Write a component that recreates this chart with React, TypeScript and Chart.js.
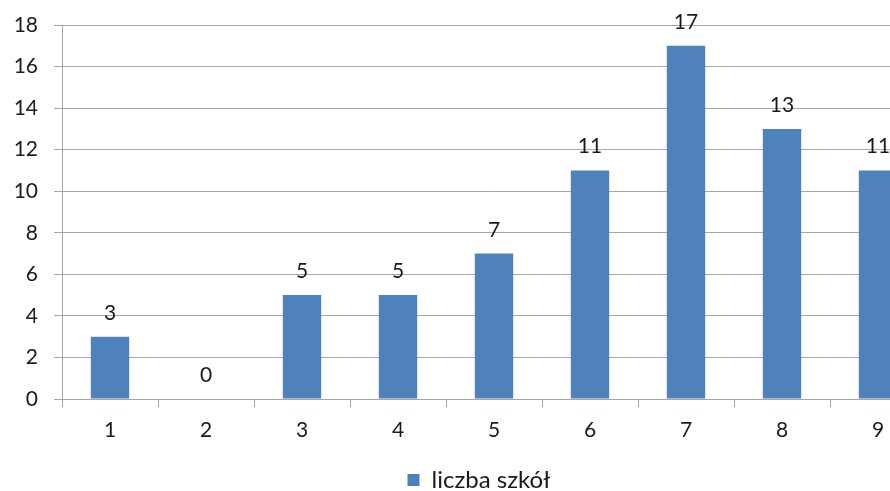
import React, { useEffect, useRef } from "react";
import { Chart, registerables } from "chart.js";

Chart.register(...registerables);

const categories = ["1", "2", "3", "4", "5", "6", "7", "8", "9"];
const values = [3, 0, 5, 5, 7, 11, 17, 13, 11];
const seriesName = "liczba szkół";
const yTicks = [0, 2, 4, 6, 8, 10, 12, 14, 16, 18];

const FONT = "Lato, 'Open Sans', sans-serif";

const valueLabels = {
  id: "valueLabels",
  afterDatasetsDraw(chart: any) {
    const ctx = chart.ctx;
    const meta = chart.getDatasetMeta(0);
    ctx.save();
    ctx.font = `21px ${FONT}`;
    ctx.fillStyle = "#1a1a1a";
    ctx.textAlign = "center";
    ctx.textBaseline = "alphabetic";
    meta.data.forEach((bar: any, i: number) => {
      const v = chart.data.datasets[0].data[i];
      ctx.fillText(String(v), bar.x, bar.y - 17);
    });
    ctx.restore();
  },
};

export default function App() {
  const ref = useRef<HTMLCanvasElement>(null);
  useEffect(() => {
    document.body.style.margin = "0";
    const chart = new Chart(ref.current!, {
      type: "bar",
      data: {
        labels: categories,
        datasets: [
          {
            label: seriesName,
            data: values,
            backgroundColor: "#4F81BD",
            borderWidth: 0,
            barPercentage: 0.4,
            categoryPercentage: 1,
          },
        ],
      },
      options: {
        animation: false,
        responsive: false,
        maintainAspectRatio: false,
        layout: { padding: { top: 25, right: 0, left: 0, bottom: -11 } },
        plugins: {
          legend: {
            position: "bottom",
            labels: {
              font: { family: FONT, size: 24 },
              color: "#1a1a1a",
              boxWidth: 12,
              boxHeight: 12,
              padding: 1,
            },
          },
          tooltip: { enabled: false },
        },
        scales: {
          x: {
            grid: {
              drawOnChartArea: false,
              drawTicks: true,
              tickLength: 8,
              color: "#a6a6a6",
              offset: true,
            },
            border: { color: "#a6a6a6" },
            ticks: {
              font: { family: FONT, size: 21 },
              color: "#1a1a1a",
              padding: 11,
            },
            afterFit(scale: any) {
              scale.height = 68;
            },
          },
          y: {
            min: 0,
            max: 18,
            afterBuildTicks(scale: any) {
              scale.ticks = yTicks.map((v) => ({ value: v }));
            },
            grid: {
              color: "#a6a6a6",
              drawTicks: true,
              tickLength: 8,
            },
            border: { color: "#a6a6a6" },
            ticks: {
              font: { family: FONT, size: 21 },
              color: "#1a1a1a",
              padding: 16,
            },
            afterFit(scale: any) {
              scale.width = 62;
              scale.paddingTop = 0;
              scale.paddingBottom = 0;
            },
          },
          y2: {
            position: "right",
            min: 0,
            max: 18,
            grid: { display: false, drawOnChartArea: false },
            border: { display: false },
            ticks: { display: false },
            afterFit(scale: any) {
              scale.width = 32;
              scale.paddingTop = 0;
              scale.paddingBottom = 0;
            },
          },
        },
      },
      plugins: [valueLabels],
    });
    return () => chart.destroy();
  }, []);
  return (
    <div style={{ width: 890, height: 491, overflow: "hidden", position: "relative" }}>
      <canvas ref={ref} width={958} height={491} style={{ position: "absolute", left: 0, top: 0 }} />
    </div>
  );
}
